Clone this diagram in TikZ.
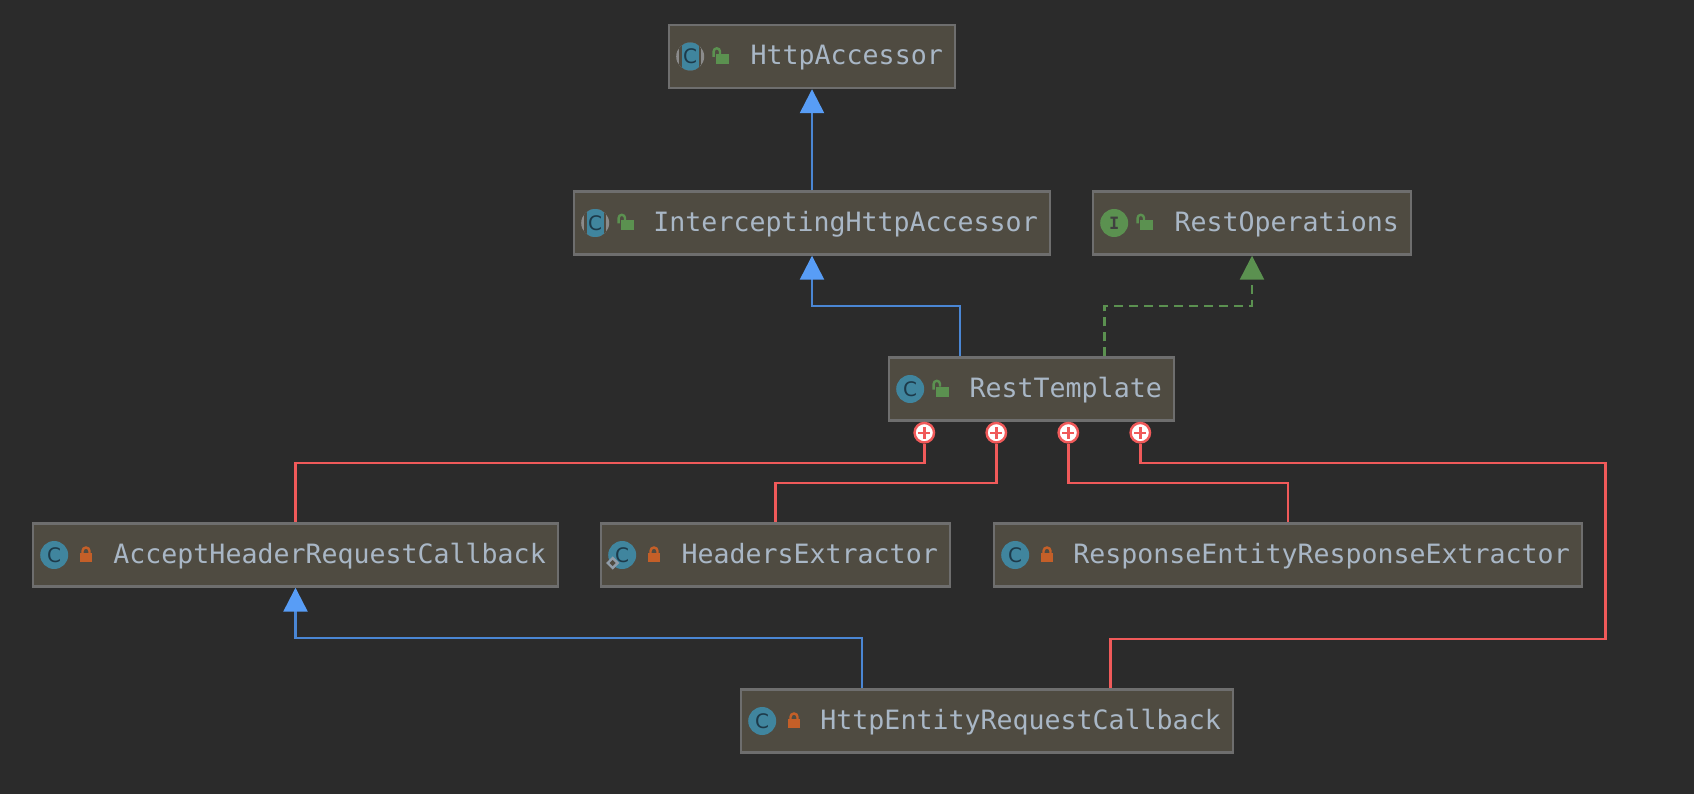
\documentclass[tikz,border=0pt]{standalone}
\usepackage{fontspec}
\setmainfont{DejaVu Sans Mono}
\newfontfamily\iconfont{DejaVu Sans}
\usetikzlibrary{arrows.meta,calc,positioning}
\definecolor{canvasbg}{HTML}{2B2B2B}
\definecolor{boxfill}{HTML}{4F4B41}
\definecolor{boxline}{HTML}{6E6E6E}
\definecolor{labeltext}{HTML}{A9B7C6}
\definecolor{extendsblue}{HTML}{4A86D4}
\definecolor{extendstip}{HTML}{589DF6}
\definecolor{implgreen}{HTML}{5B9150}
\definecolor{innerred}{HTML}{F05A5A}
\definecolor{classteal}{HTML}{40859E}
\definecolor{letterdark}{HTML}{1D3A4A}
\definecolor{lockorange}{HTML}{C45F28}
\tikzset{
    x=1pt,y=-1pt,
    classbox/.style ={rectangle, draw=boxline, fill=boxfill, line width=2.4pt, text=labeltext,
        font=\fontsize{26.6pt}{30pt}\selectfont, minimum height=63pt, inner xsep=12pt, inner ysep=0pt,
        text width=#1pt-26.4pt, align=right, text height=20pt, text depth=3pt},
    classicon/.style ={circle, fill=classteal, minimum size=28pt, inner sep=0pt, text=letterdark,
        font=\iconfont\fontsize{20pt}{20pt}\selectfont},
    abstracticon/.style ={classicon, fill=boxline!80!white, path picture={
        \fill[boxfill] ([xshift=-11pt,yshift=-15pt]path picture bounding box.center) rectangle ++(22,-30);
        \fill[classteal] ([xshift=-8.5pt,yshift=-15pt]path picture bounding box.center) rectangle ++(17,-30);}},
    interfaceicon/.style ={classicon, fill=implgreen, text=black!75, font=\bfseries\fontsize{17pt}{17pt}\selectfont},
    staticmark/.style ={rectangle, rotate=45, draw=labeltext!85!black, fill=boxfill, line width=2.4pt, minimum size=7pt, inner sep=0pt},
    extends/.style ={-{Triangle[width=24pt,length=24pt,color=extendstip]}, extendsblue, line width=2.4pt},
    implements/.style ={-{Triangle[width=24pt,length=24pt,color=implgreen]}, implgreen, line width=2.4pt, dash pattern=on 9pt off 6pt},
    innerline/.style ={innerred, line width=2.4pt},
    innermark/.style ={circle, draw=innerred, fill=white, line width=2.4pt, minimum size=19.5pt, inner sep=0pt, path picture={
        \draw[innerred, line width=2.4pt] ([xshift=-6pt]path picture bounding box.center) -- ([xshift=6pt]path picture bounding box.center);
        \draw[innerred, line width=2.4pt] ([yshift=-6pt]path picture bounding box.center) -- ([yshift=6pt]path picture bounding box.center);}},
    lockopen/.pic ={
        \fill[implgreen] (-6.5,-5) rectangle (6.5,5);
        \draw[implgreen, line width=2.4pt] (-8.4,-2) -- (-8.4,-7.5) arc[start angle=180, end angle=0, radius=3.2pt] -- (-2,-5);},
    lockclosed/.pic ={
        \fill[lockorange] (-6,-4.5) rectangle (6,4.5);
        \draw[lockorange, line width=2.4pt] (-3.5,-4) -- (-3.5,-6.5) arc[start angle=180, end angle=0, radius=3.5pt] -- (3.5,-4);}
}

\begin{document}
\begin{tikzpicture}
    \useasboundingbox[fill=canvasbg] (0,0) rectangle (1694,794);
    % The class boxes
    \node[classbox=288] (httpAccessor) at (812,56.5) {HttpAccessor};
    \node[classbox=478] (interceptingAccessor) at (812,223) {InterceptingHttpAccessor};
    \node[classbox=320] (restOperations) at (1252,223) {RestOperations};
    \node[classbox=287] (restTemplate) at (1031.5,389) {RestTemplate};
    \node[classbox=527] (acceptCallback) at (295.5,555) {AcceptHeaderRequestCallback};
    \node[classbox=351] (headersExtractor) at (775.5,555) {HeadersExtractor};
    \node[classbox=590] (responseExtractor) at (1288,555) {ResponseEntityResponseExtractor};
    \node[classbox=494] (entityCallback) at (987,721) {HttpEntityRequestCallback};
    % Kind icons
    \node[abstracticon] (httpAccessorIcon) [right=8pt of httpAccessor.west] {C};
    \node[abstracticon] (interceptingIcon) [right=8pt of interceptingAccessor.west] {C};
    \node[interfaceicon] (restOperationsIcon) [right=8pt of restOperations.west] {I};
    \node[classicon] (restTemplateIcon) [right=8pt of restTemplate.west] {C};
    \node[classicon] (acceptIcon) [right=8pt of acceptCallback.west] {C};
    \node[classicon] (headersIcon) [right=8pt of headersExtractor.west] {C};
    \node[staticmark] (headersStatic) at ([xshift=-9.5pt,yshift=-8pt]headersIcon.center) {};
    \node[classicon] (responseIcon) [right=8pt of responseExtractor.west] {C};
    \node[classicon] (entityIcon) [right=8pt of entityCallback.west] {C};
    % Access locks
    \pic at ([xshift=54pt,yshift=-2.5pt]httpAccessor.west) {lockopen};
    \pic at ([xshift=54pt,yshift=-2.5pt]interceptingAccessor.west) {lockopen};
    \pic at ([xshift=54pt,yshift=-2.5pt]restOperations.west) {lockopen};
    \pic at ([xshift=54pt,yshift=-2.5pt]restTemplate.west) {lockopen};
    \pic at ([xshift=54pt,yshift=-2.5pt]acceptCallback.west) {lockclosed};
    \pic at ([xshift=54pt,yshift=-2.5pt]headersExtractor.west) {lockclosed};
    \pic at ([xshift=54pt,yshift=-2.5pt]responseExtractor.west) {lockclosed};
    \pic at ([xshift=54pt,yshift=-2.5pt]entityCallback.west) {lockclosed};
    % Inner class markers
    \node[innermark] (innerA) at (924.3,432.7) {};
    \node[innermark] (innerB) at (996.3,432.7) {};
    \node[innermark] (innerC) at (1068.3,432.7) {};
    \node[innermark] (innerD) at (1140.3,432.7) {};
    % Inheritance
    \draw[extends] (interceptingAccessor.north) -- (httpAccessor.south);
    \draw[extends] ([xshift=-71.5pt]restTemplate.north) -- ++(0,-50.5) -| (interceptingAccessor.south);
    \draw[implements] ([xshift=73pt]restTemplate.north) -- ++(0,-50.5) -| (restOperations.south);
    \draw[extends] ([xshift=-125pt]entityCallback.north) -- ++(0,-50.5) -| (acceptCallback.south);
    % Inner class lines
    \draw[innerline] (innerA.south) -- ++(0,19.3) -| (acceptCallback.north);
    \draw[innerline] (innerB.south) -- ++(0,39.3) -| (headersExtractor.north);
    \draw[innerline] (innerC.south) -- ++(0,39.3) -| (responseExtractor.north);
    \draw[innerline] (innerD.south) -- ++(0,19.3) -- ++(465,0) -- ++(0,176) -| ([xshift=123.5pt]entityCallback.north);
\end{tikzpicture}
\end{document}
